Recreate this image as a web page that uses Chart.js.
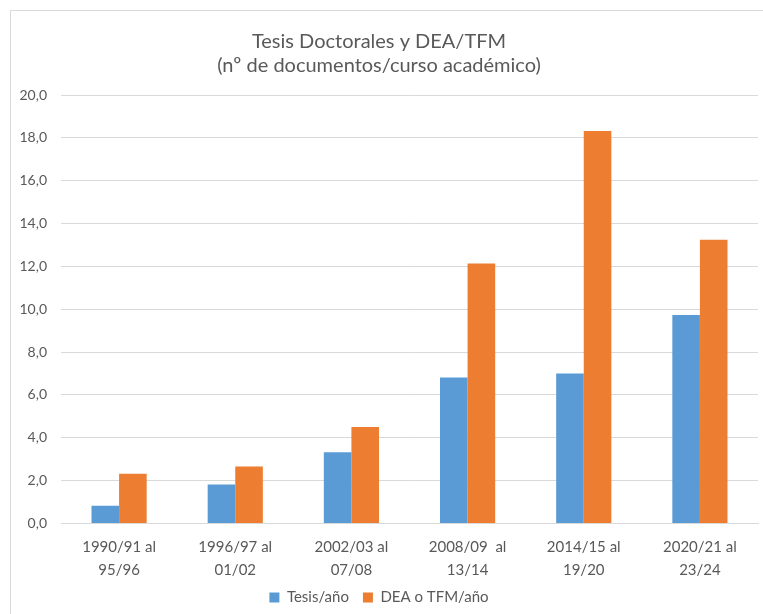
<!DOCTYPE html>
<html>
<head>
<meta charset="utf-8">
<script src="https://cdn.jsdelivr.net/npm/chart.js@4.4.0/dist/chart.umd.min.js"></script>
<style>
  html, body { margin: 0; padding: 0; background: #fff; }
  #wrap { position: relative; width: 763px; height: 614px; }
</style>
</head>
<body>
<div id="wrap"><canvas id="c" width="763" height="614"></canvas></div>
<script>
  const CATEGORIES = [
    ["1990/91 al", "95/96"],
    ["1996/97 al", "01/02"],
    ["2002/03 al", "07/08"],
    ["2008/09  al", "13/14"],
    ["2014/15 al", "19/20"],
    ["2020/21 al", "23/24"],
  ];
  const TESIS = [0.83, 1.82, 3.33, 6.82, 7.0, 9.73];
  const DEA_TFM = [2.32, 2.66, 4.5, 12.14, 18.32, 13.24];
  const SERIES_NAMES = ["Tesis/año", "DEA o TFM/año"];
  const TITLE = ["Tesis Doctorales y DEA/TFM", "(nº de documentos/curso académico)"];

  const FONT = "Lato, 'Liberation Sans', sans-serif";
  const GREY = "#595959";

  // white background + the light frame of the chart object (top and left edges visible)
  const frame = {
    id: "frame",
    beforeDraw(chart) {
      const ctx = chart.ctx;
      ctx.save();
      ctx.fillStyle = "#fff";
      ctx.fillRect(0, 0, chart.width, chart.height);
      ctx.strokeStyle = "#d9d9d9";
      ctx.lineWidth = 1;
      ctx.strokeRect(10.5, 10.5, chart.width + 10, chart.height + 10);
      ctx.restore();
    },
  };

  // pull the legend up closer to the axis labels (keeps the item spacing)
  const legendNudge = {
    id: "legendNudge",
    afterLayout(chart) {
      const lg = chart.legend;
      if (!lg) return;
      lg.top -= 18;
      lg.bottom -= 18;
    },
  };

  new Chart(document.getElementById("c"), {
    type: "bar",
    data: {
      labels: CATEGORIES,
      datasets: [
        { label: SERIES_NAMES[0], data: TESIS, backgroundColor: "#5b9bd5", borderWidth: 0 },
        { label: SERIES_NAMES[1], data: DEA_TFM, backgroundColor: "#ed7d31", borderWidth: 0 },
      ],
    },
    options: {
      responsive: false,
      animation: false,
      layout: { padding: { left: 0, right: 5, top: 30, bottom: -19 } },
      datasets: { bar: { categoryPercentage: 0.475, barPercentage: 1.0 } },
      plugins: {
        title: {
          display: true,
          text: TITLE,
          color: GREY,
          font: { family: FONT, size: 20, weight: "normal", lineHeight: 1.2 },
          padding: { top: 0, bottom: 17 },
        },
        legend: {
          position: "bottom",
          labels: {
            color: GREY,
            font: { family: FONT, size: 15 },
            boxWidth: 10,
            boxHeight: 10,
            padding: 14,
          },
        },
        tooltip: { enabled: false },
      },
      scales: {
        x: {
          grid: { display: false, drawTicks: false },
          border: { color: "#d9d9d9" },
          ticks: {
            color: GREY,
            font: { family: FONT, size: 15, lineHeight: 1.55 },
            padding: 12,
            maxRotation: 0,
            autoSkip: false,
          },
        },
        y: {
          min: 0,
          max: 20,
          afterFit(scale) { scale.width = 61; },
          grid: { color: "#d9d9d9", drawTicks: false },
          border: { display: false },
          ticks: {
            stepSize: 2,
            color: GREY,
            font: { family: FONT, size: 14 },
            padding: 14,
            callback: (v) => v.toFixed(1).replace(".", ","),
          },
        },
      },
    },
    plugins: [frame, legendNudge],
  });
</script>
</body>
</html>
